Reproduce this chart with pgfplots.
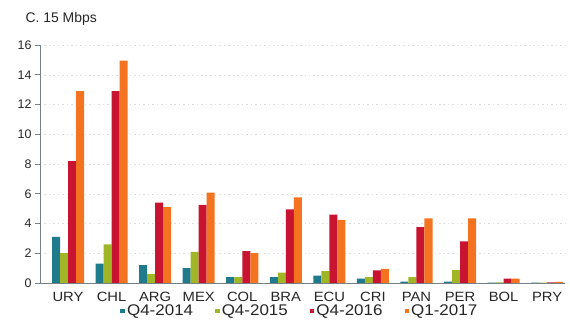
\documentclass[border=0pt]{standalone}
\usepackage{pgfplots}
\pgfplotsset{compat=1.18}
\usepackage{fontspec}
\setmainfont{Liberation Sans}
\definecolor{cteal}{RGB}{31,122,140}
\definecolor{cgreen}{RGB}{160,182,38}
\definecolor{cred}{RGB}{200,20,48}
\definecolor{corange}{RGB}{243,115,33}
\definecolor{axgray}{RGB}{120,128,135}
\begin{document}
\begin{tikzpicture}
\begin{axis}[
  at={(0,0)}, anchor=south west,
  width=525bp, height=238bp, scale only axis,
  ybar=0pt, bar width=0.184,
  xmin=-0.644, xmax=11.41,
  ymin=0, ymax=16,
  xtick={0,...,11},
  xticklabels={URY,CHL,ARG,MEX,COL,BRA,ECU,CRI,PAN,PER,BOL,PRY},
  ytick={0,2,...,16},
  axis lines*=left,
  axis line style={axgray, line width=0.9pt},
  x axis line style={-},
  y axis line style={-},
  tick align=outside,
  major tick length=5bp,
  xtick style={draw=none},
  ytick style={axgray, line width=0.8pt},
  ymajorgrids,
  major grid style={black!13, dash pattern=on 1.5pt off 3pt},
  x tick label style={font=\fontsize{13.5}{15}\selectfont, yshift=-1bp, xscale=1.1, text=black!85},
  y tick label style={font=\fontsize{12.5}{14}\selectfont, text=black!85},
  /pgf/number format/assume math mode=true,
  legend columns=4,
  legend style={draw=none, fill=none, at={(0.495,0)}, anchor=center, yshift=-28bp,
    font=\fontsize{15.5}{17}\selectfont, text=black!85,
    /tikz/every even column/.append style={column sep=20bp},
    inner sep=0pt},
  legend image code/.code={\fill[#1] (0bp,-2.3bp) rectangle (4.6bp,2.3bp);},
]
\addplot[fill=cteal, draw=none] coordinates {(0,3.1) (1,1.3) (2,1.2) (3,1.0) (4,0.4) (5,0.4) (6,0.5) (7,0.3) (8,0.1) (9,0.1) (10,0.02) (11,0.02)};
\addplot[fill=cgreen, draw=none] coordinates {(0,2.0) (1,2.6) (2,0.6) (3,2.1) (4,0.4) (5,0.7) (6,0.8) (7,0.4) (8,0.4) (9,0.87) (10,0.05) (11,0.03)};
\addplot[fill=cred, draw=none] coordinates {(0,8.2) (1,12.9) (2,5.4) (3,5.25) (4,2.15) (5,4.95) (6,4.6) (7,0.85) (8,3.75) (9,2.8) (10,0.3) (11,0.05)};
\addplot[fill=corange, draw=none] coordinates {(0,12.9) (1,14.95) (2,5.1) (3,6.07) (4,2.0) (5,5.75) (6,4.25) (7,0.95) (8,4.35) (9,4.35) (10,0.3) (11,0.08)};
\addlegendentry{\scalebox{1.1}[1]{Q4-2014}}
\addlegendentry{\scalebox{1.1}[1]{Q4-2015}}
\addlegendentry{\scalebox{1.1}[1]{Q4-2016}}
\addlegendentry{\scalebox{1.1}[1]{Q1-2017}}
\end{axis}
\node[anchor=west, font=\fontsize{14}{16}\selectfont, text=black!85] at (-18bp,264bp) {C. 15 Mbps};
\path[use as bounding box] (-40bp,-42bp) rectangle (530bp,283bp);
\end{tikzpicture}
\end{document}
